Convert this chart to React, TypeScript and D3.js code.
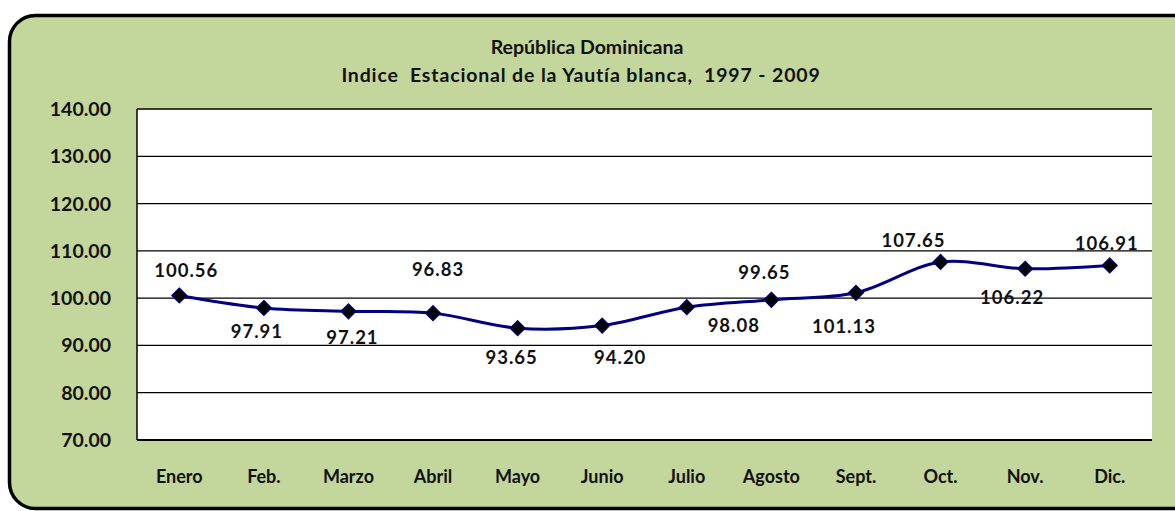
import React from "react";
import * as d3 from "d3";

const months = ["Enero", "Feb.", "Marzo", "Abril", "Mayo", "Junio", "Julio", "Agosto", "Sept.", "Oct.", "Nov.", "Dic."];
const indexValues = [100.56, 97.91, 97.21, 96.83, 93.65, 94.2, 98.08, 99.65, 101.13, 107.65, 106.22, 106.91];
const yTicks = [70, 80, 90, 100, 110, 120, 130, 140];
// where Excel put each data label, relative to its marker
const labelShift: [number, number][] = [
  [7, -25], [-7, 23], [4, 26], [5, -44], [-6, 29], [18, 32],
  [47, 18], [-7, -27], [-12, 34], [-27, -22], [-13, 29], [-3, -22],
];

const W = 1175;
const H = 511;
const margin = { top: 109, right: 23, bottom: 71, left: 137 };
const font = "Lato, 'Open Sans', sans-serif";

export default function App() {
  const x = d3.scaleBand<string>()
    .domain(months)
    .range([margin.left, W - margin.right]);
  const y = d3.scaleLinear()
    .domain([70, 140])
    .range([H - margin.bottom, margin.top]);
  const cx = (i: number) => x(months[i])! + x.bandwidth() / 2;

  const line = d3.line<number>()
    .x((_, i) => cx(i))
    .y(d => y(d))
    .curve(d3.curveCatmullRom.alpha(0.5));

  const plotRight = W - margin.right;
  const plotBottom = H - margin.bottom;

  return (
    <svg width={W} height={H} style={{ position: "fixed", left: 0, top: 0, background: "white" }}>
      <rect x={9.5} y={15.5} width={1190} height={493} rx={26} ry={26}
        fill="#c3d69b" stroke="black" strokeWidth={3.5} />
      <rect x={margin.left} y={margin.top} width={plotRight - margin.left} height={plotBottom - margin.top} fill="white" />
      {yTicks.map(t => (
        <g key={t}>
          <line x1={margin.left} x2={plotRight} y1={y(t)} y2={y(t)} stroke="black" strokeWidth={1.3} />
          <text x={111} y={y(t)} dy="0.36em" textAnchor="end" fontFamily={font} fontWeight="bold" fontSize={19.5} fill="#111">
            {t.toFixed(2)}
          </text>
        </g>
      ))}
      <line x1={margin.left} x2={margin.left} y1={margin.top} y2={plotBottom} stroke="black" strokeWidth={1.5} />
      <line x1={margin.left} x2={plotRight} y1={plotBottom} y2={plotBottom} stroke="black" strokeWidth={1.8} />

      <text x={587} y={54} textAnchor="middle" fontFamily={font} fontWeight="bold" fontSize={19.5} fill="#111">
        República Dominicana
      </text>
      <text x={581} y={82} textAnchor="middle" fontFamily={font} fontWeight="bold" fontSize={19.5} fill="#111"
        letterSpacing={0.85} style={{ whiteSpace: "pre" }}>
        {"Indice  Estacional de la Yautía blanca,  1997 - 2009"}
      </text>

      {months.map((m, i) => (
        <text key={m} x={cx(i)} y={483} textAnchor="middle" fontFamily={font} fontWeight="bold" fontSize={18} fill="#111">
          {m}
        </text>
      ))}

      <path d={line(indexValues) ?? ""} fill="none" stroke="#000080" strokeWidth={3} />
      {indexValues.map((v, i) => {
        const px = cx(i);
        const py = y(v);
        const s = 7.5;
        return (
          <path key={i} d={`M${px},${py - s}L${px + s},${py}L${px},${py + s}L${px - s},${py}Z`}
            fill="black" stroke="#000080" strokeWidth={1.2} />
        );
      })}
      {indexValues.map((v, i) => (
        <text key={"l" + i} x={cx(i) + labelShift[i][0]} y={y(v) + labelShift[i][1]} dy="0.36em"
          textAnchor="middle" fontFamily={font} fontWeight="bold" fontSize={18.5} fill="#111" letterSpacing={1}>
          {v.toFixed(2)}
        </text>
      ))}
    </svg>
  );
}
